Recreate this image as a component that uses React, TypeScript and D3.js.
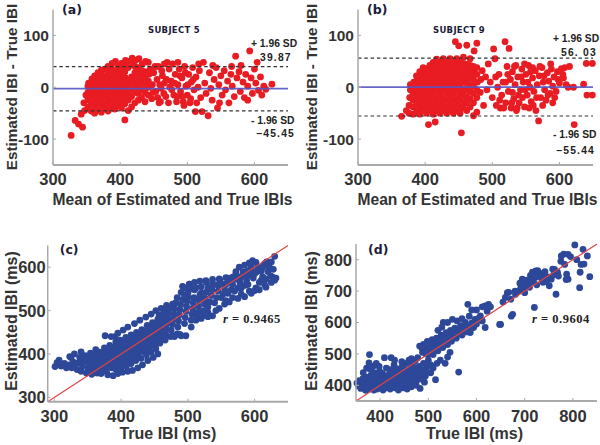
import React from 'react';
import * as d3 from 'd3';

// Bland-Altman data: [mean of estimated & true IBI, difference]
const subject5: [number, number][] = [
  [327,-93],[333,-64],[338,-71],[344,-77],[342,-52],[347,-45],[346,-30],[349,-15],
  [352,-38],[352,-24],[352,-10],[352,2],[353,8],
  [357,-46],[357,-32],[357,-18],[357,-5],[357,6],[358,16],
  [362,-50],[362,-38],[362,-25],[362,-12],[362,0],[363,12],[362,22],
  [367,-44],[367,-30],[367,-18],[367,-6],[367,6],[368,18],[367,28],
  [372,-48],[372,-35],[372,-22],[372,-10],[372,2],[373,14],[372,25],[372,33],
  [377,-40],[377,-28],[377,-15],[377,-3],[377,10],[378,22],[377,35],
  [382,-46],[382,-32],[382,-20],[382,-8],[382,4],[383,16],[382,28],[382,40],
  [387,-38],[387,-25],[387,-12],[387,0],[387,12],[388,24],[387,36],[388,46],
  [392,-42],[392,-30],[392,-18],[392,-5],[392,8],[393,20],[392,32],[393,50],
  [397,-35],[397,-22],[397,-10],[397,2],[397,15],[398,28],[397,40],
  [402,-40],[402,-28],[402,-15],[402,-3],[402,10],[403,22],[402,35],[402,46],
  [407,-63],[407,-32],[407,-20],[407,-8],[407,5],[408,18],[407,30],[407,42],[408,52],
  [412,-45],[412,-25],[412,-12],[412,0],[412,12],[412,38],[413,50],
  [417,-38],[417,-18],[417,-5],[417,8],[417,20],[417,45],[418,56],
  [422,-30],[422,-10],[422,3],[422,15],[422,28],[422,40],[423,52],
  [427,-25],[427,-12],[427,0],[427,12],[427,25],[427,38],[428,55],
  [432,-20],[432,-5],[432,8],[432,20],[432,32],[433,45],
  [437,-28],[437,-10],[437,5],[437,18],[437,30],[438,50],
  [442,-15],[442,0],[442,12],[443,25],[442,48],
  [447,-22],[448,5],[450,28],[453,-8],[455,15],[457,40],[460,-28],[461,-2],[463,22],[466,8],
  [468,-18],[470,48],[472,-30],[474,0],[476,12],[478,45],[480,-15],[482,25],[484,-28],[486,5],
  [488,35],[490,-8],[492,18],[494,-28],[496,40],[498,2],[500,-15],[502,25],[504,-30],[506,10],
  [508,38],[510,-5],[512,-47],[513,20],[516,0],[518,32],[520,-20],
  [445,35],[449,-10],[452,40],[456,-20],[459,5],[462,32],[465,-12],[469,15],[473,35],[477,-5],
  [481,8],[485,-18],[489,22],[493,-18],[497,28],[501,5],[505,-22],[509,15],[514,-30],[517,45],
  [458,-30],[466,45],[486,48],[495,-35],
  [522,-47],[524,48],[526,8],[528,-12],[531,-55],[533,28],[535,-2],[537,-25],[540,15],[543,38],
  [545,-40],[547,5],[550,22],[552,-15],[555,32],[557,-5],[560,12],[562,-30],[565,25],[567,2],
  [570,-18],[572,60],[574,18],[577,30],[579,-8],[580,42],[583,10],[585,-20],[587,25],[590,2],
  [593,70],[595,18],[597,-12],[600,35],[602,8],[604,48],[606,-6],[609,20],[611,-15],[614,2],
  [617,-4],[626,6],[590,-25],[566,40],[548,-30],[538,42]
];

const subject9: [number, number][] = [
  [365,-56],[372,-45],[376,-35],[377,-20],[378,-5],[378,5],[376,-50],
  [382,-52],[382,-38],[382,-25],[382,-12],[382,0],[383,10],
  [387,-48],[387,-35],[387,-22],[387,-10],[387,2],[388,14],[387,22],
  [392,-52],[392,-40],[392,-28],[392,-15],[392,-3],[393,8],[392,20],[392,30],
  [397,-45],[397,-32],[397,-20],[397,-8],[397,5],[398,16],[397,28],[397,38],
  [402,-50],[402,-38],[402,-25],[402,-12],[402,0],[403,12],[402,24],[402,36],
  [405,-72],[407,-44],[407,-32],[407,-18],[407,-6],[407,6],[408,18],[407,30],[407,42],
  [412,-52],[412,-38],[412,-25],[412,-12],[412,0],[413,12],[412,24],[412,36],[412,48],
  [415,-67],[417,-45],[417,-32],[417,-20],[417,-6],[417,6],[418,18],[417,30],[417,42],[417,54],
  [422,-50],[422,-38],[422,-25],[422,-12],[422,0],[423,12],[422,24],[422,36],[422,48],
  [427,-45],[427,-32],[427,-20],[427,-6],[427,6],[428,18],[427,30],[427,42],[427,55],
  [432,-50],[432,-38],[432,-25],[432,-12],[432,0],[433,12],[432,24],[432,36],[432,48],
  [437,-45],[437,-32],[437,-20],[437,-6],[437,6],[438,18],[437,30],[437,42],[437,55],
  [442,-50],[442,-38],[442,-25],[442,-12],[442,0],[443,12],[442,24],[442,36],[442,48],
  [445,88],[450,80],[454,-88],
  [447,-45],[447,-32],[447,-20],[447,-6],[447,6],[448,18],[447,30],[447,42],[447,55],
  [452,-50],[452,-38],[452,-25],[452,-12],[452,0],[453,12],[452,24],[452,36],[452,48],
  [457,-40],[457,-28],[457,-15],[457,-3],[457,10],[458,22],[457,34],[457,46],[457,58],
  [462,-45],[462,-30],[462,-18],[462,-5],[462,8],[463,20],[462,32],[462,44],[462,81],
  [467,-38],[467,-22],[467,-8],[467,5],[467,18],[468,30],[467,42],[467,55],
  [472,-55],[472,-30],[472,-12],[472,2],[472,15],[473,28],[472,40],[473,70],
  [477,-48],[477,-20],[477,-5],[478,10],[477,25],[477,38],[477,85],
  [482,-10],[483,15],[485,32],[487,-35],[490,20],[492,-5],[494,45],[497,10],[500,-20],[502,74],
  [504,55],[506,-35],[508,0],[510,25],[512,-40],[514,-15],[516,10],[519,88],[520,-30],[522,40],
  [525,75],[524,-8],
  [527,15],[528,-40],[530,30],[532,-22],[534,5],[536,-45],[538,20],[540,-30],[542,-5],[544,35],
  [546,10],[548,-38],[550,25],[552,-15],[554,42],[556,0],[558,-28],[560,18],[562,-8],[564,32],
  [565,-45],[567,5],[569,-65],[570,22],[572,-20],[574,38],[576,10],[578,-5],[580,-25],[582,28],
  [584,12],[586,-12],[588,35],[590,2],[592,20],[595,-8],[597,30],[600,8],[603,36],[606,18],
  [610,5],[613,0],[621,0],[622,-72],[636,6],[640,46],[641,-15],[649,46],[649,-15],
  [545,-20],[555,-40],[535,42],[548,45],[530,-10],[575,-35],[560,38],[590,-30],
  [505,20],[511,-25],[517,-40],[523,25],[529,-30],[533,40],[539,-15],[543,20],[549,-5],[553,10],
  [557,30],[561,-35],[566,-20],[571,40],[577,22],[583,-15],[587,45],[593,-20],[598,15],[605,25],
  [608,38],[615,40],[520,10],[537,-40]
];

// Scatter data: [true IBI, estimated IBI]
const scatterC: [number, number][] = [
  [301,371],[304,380],[307,386],[310,372],[315,378],[318,368],[322,375],[323,394],[326,368],[328,382],
  [331,372],[334,364],[336,380],[338,392],[340,360],[342,372],[344,384],[346,396],[348,356],[350,366],
  [351,378],[352,390],[354,402],[356,353],[357,364],[358,375],[359,386],[360,398],[362,410],[364,356],
  [365,368],[366,380],[367,392],[368,404],[370,355],[371,366],[372,378],[373,390],[374,402],[375,414],
  [376,442],[378,360],[379,372],[380,384],[381,396],[382,408],[383,420],[386,368],[387,380],[388,392],
  [389,404],[390,416],[391,440],[392,428],[394,372],[395,384],[396,396],[397,408],[398,420],[399,432],
  [402,378],[403,390],[404,402],[405,414],[406,426],[407,438],[410,384],[411,396],[412,408],[413,420],
  [414,432],[415,444],[418,390],[419,402],[420,414],[421,426],[422,438],[423,450],[426,396],[427,408],
  [428,420],[429,432],[430,444],[431,456],[434,405],[435,418],[436,430],[437,442],[438,454],[439,466],
  [442,412],[443,424],[444,436],[445,448],[446,460],[447,472],[450,420],[451,432],[452,444],[453,456],
  [454,468],[455,480],[458,425],[459,438],[460,450],[461,462],[462,474],[463,486],[466,432],[467,445],
  [468,458],[469,470],[470,482],[471,494],[474,440],[475,455],[477,468],[478,480],[479,492],[480,504],
  [477,442],[484,446],[485,462],[486,476],[487,490],[488,502],[489,514],[490,442],[492,556],[495,470],
  [496,484],[497,498],[498,510],[499,522],[500,540],[503,561],[505,478],[506,492],[507,505],[508,518],
  [509,530],[510,548],[514,482],[515,496],[516,510],[517,524],[518,536],[520,555],[522,488],[524,500],
  [525,515],[526,528],[527,542],[528,565],[530,496],[533,520],[535,535],[536,548],[537,560],[542,500],
  [543,530],[545,545],[546,558],[548,570],[553,538],[555,550],[557,523],[558,562],[560,575],[565,548],
  [567,560],[570,572],[572,585],[575,552],[578,565],[580,578],[583,590],[585,558],[588,570],[590,592],
  [592,582],[595,600],[598,575],[600,546],[602,611],[604,590],[607,565],[610,598],[612,578],[615,608],
  [617,554],[617,573],[620,590],[624,580],[627,577],[630,625],[622,600],[632,575],[610,570],
  [380,352],[388,350],[395,355],[402,358],[410,360],[417,362],[425,368],[432,375],[440,385],[448,392],
  [455,400],[392,365],[400,368],[408,372],[415,378],[422,385],[430,390],[438,398],[445,405],[452,412],
  [385,440],[395,448],[403,455],[410,462],[420,470],[428,478],[437,485],[445,492],[452,500],[460,505],
  [468,512],[477,515],[484,530],[490,542],[496,552],[502,561],[510,565],[518,568],[527,569],[537,572],
  [547,573],[557,576],[567,577],[572,590],[577,600],[585,605],[592,610],[597,615],[480,440],[488,445],
  [497,442],[505,462],[512,478],[520,482],[530,486],[537,488],[547,505],[555,515],[562,520],[575,528],
  [585,532],[595,540],[607,548],[625,565],[610,592],[620,605],[605,600],[330,400],[340,405],[325,392],
  [457,490],[465,498],[472,505],[482,518],[492,525],[500,530],[495,535],[505,550],[512,552],[520,540],
  [530,552],[540,560],[550,562],[560,565],[565,570],[575,575],[582,580],[590,585],[598,590],[605,595],
  [612,600],[618,612],[625,612],[628,595],[600,585],[590,560],[580,552],[570,545],[560,540],[550,530],
  [540,518],[530,508],[520,498],[512,492],[567,530],[580,538],[592,545],[602,552],[615,560],[630,570]
];

const scatterD: [number, number][] = [
  [352,407],[355,398],[357,415],[360,390],[362,404],[364,420],[367,395],[368,410],[370,384],[372,425],
  [374,400],[376,414],[377,471],[378,498],[378,388],[380,430],[382,395],[384,408],[385,420],[387,385],
  [388,440],[390,400],[391,415],[393,430],[394,388],[396,404],[397,418],[399,445],[400,392],[402,408],
  [403,425],[405,438],[406,385],[408,400],[409,488],[410,415],[411,430],[413,455],[414,392],[416,405],
  [417,420],[419,435],[420,450],[421,388],[423,488],[424,400],[425,415],[427,430],[428,445],[429,465],
  [431,392],[432,408],[434,422],[435,438],[437,452],[438,385],[440,400],[441,415],[443,430],[444,445],
  [446,460],[447,392],[449,405],[450,420],[452,435],[453,450],[455,470],[456,388],[458,402],[459,418],
  [461,432],[462,447],[464,462],[465,395],[467,410],[468,425],[470,440],[471,455],[473,478],[475,400],
  [476,415],[478,430],[479,445],[481,460],[483,390],[485,420],[486,436],[488,450],[490,470],[492,410],
  [494,430],[495,445],[498,460],[500,480],
  [505,440],[510,455],[518,470],[525,480],[535,470],[540,490],[545,505],[505,465],[500,498],[495,520],
  [488,505],[478,488],[470,475],[465,485],[508,510],[460,480],[445,475],[430,480],[380,450],
  [385,460],[392,470],[365,440],[372,455],[398,460],
  [482,525],[487,518],[490,530],[495,500],[498,540],[502,515],[505,528],[508,545],[510,498],[512,520],
  [514,535],[515,418],[517,550],[520,510],[522,528],[524,545],[527,560],[530,520],[531,600],[532,538],
  [535,552],[537,568],[540,530],[542,545],[544,560],[546,575],[548,540],[550,555],[553,568],[555,582],
  [558,550],[560,562],[563,442],[565,575],[567,590],[570,560],[572,575],[575,588],[577,600],[580,570],
  [582,658],[584,585],[587,568],[590,598],[594,584],[597,610],[600,595],[603,612],[608,621],[612,605],
  [618,584],[618,653],[622,636],[625,658],[629,650],[648,594],[650,594],
  [520,575],[528,585],[560,605],[570,612],[585,620],[590,640],[600,640],[612,650],[540,600],[550,610],
  [664,695],[667,696],[671,674],[672,620],[675,626],[681,690],[688,701],[692,711],[695,738],[699,728],
  [709,728],[713,737],[716,760],[720,648],[723,744],[723,764],[727,765],[735,740],[740,752],[745,730],
  [751,717],[755,738],[758,770],[762,769],[765,690],[770,748],[776,812],[781,818],[783,785],[786,737],
  [787,754],[790,817],[790,738],[804,847],[814,711],[817,785],[821,833],[823,786],[835,746],[700,710],
  [680,700],[690,725],[705,735],[712,750],[718,730],[730,758],[742,762],[748,745],[760,752],[768,760],
  [775,795],[795,810],[808,800],[815,760],[830,812],[700,695],[710,712],[725,720],[738,728],[660,680],
  [655,665]
];

const baTicksX = [300, 400, 500, 600];
const baTicksY = [-100, 0, 100];
const cTicks = [300, 400, 500, 600];
const dTicks = [400, 500, 600, 700, 800];
const limits5 = [39.87, -45.45];
const limits9 = [56.03, -55.44];
const limitLabels5 = ['39.87', '\u221245.45'];
const limitLabels9 = ['56. 03', '\u221255.44'];
const rLabels = ['0.9465', '0.9604'];

const SANS = "'Liberation Sans', Arial, sans-serif";
const AXIS_COLOR = '#a9a9a9';
const TEXT_COLOR = '#333';
const RED = '#e81c22';
const BLUE = '#2d4899';

type Scale = d3.ScaleLinear<number, number>;

function Axes({ xs, ys, xTicks, yTicks, xTickY, yTickGap, yFont }: {
  xs: Scale; ys: Scale; xTicks: number[]; yTicks: number[]; xTickY: number; yTickGap: number; yFont: number;
}) {
  const [xa, xb] = xs.range();
  const [yb, ya] = ys.range();
  return (
    <g>
      <line x1={xa} x2={xa} y1={ya} y2={yb} stroke={AXIS_COLOR} strokeWidth={1.5} />
      <line x1={xa} x2={xb} y1={yb} y2={yb} stroke={AXIS_COLOR} strokeWidth={2} />
      {xTicks.map((t) => (
        <g key={'x' + t}>
          <line x1={xs(t)} x2={xs(t)} y1={yb} y2={yb - 3} stroke={AXIS_COLOR} strokeWidth={1} />
          <text x={xs(t)} y={xTickY} textAnchor="middle" fontFamily={SANS} fontWeight="bold"
            fontSize={16.5} fill={TEXT_COLOR}>{t}</text>
        </g>
      ))}
      {yTicks.map((t) => (
        <g key={'y' + t}>
          <line x1={xa} x2={xa + 3} y1={ys(t)} y2={ys(t)} stroke={AXIS_COLOR} strokeWidth={1} />
          <text x={xa - yTickGap} y={ys(t)} dy="0.36em" textAnchor="end" fontFamily={SANS}
            fontWeight="bold" fontSize={yFont} fill={TEXT_COLOR}>{t < 0 ? '-' + Math.abs(t) : t}</text>
        </g>
      ))}
    </g>
  );
}

function Dots({ data, xs, ys, color }: { data: [number, number][]; xs: Scale; ys: Scale; color: string }) {
  return (
    <g>
      {data.map((d, i) => (
        <circle key={i} cx={xs(d[0])} cy={ys(d[1])} r={3.4} fill={color} />
      ))}
    </g>
  );
}

function BlandAltman({ data, x0, x1, limits, limitLabels, subject, subjectX, tag, ylabX, annoX, annoY }: {
  data: [number, number][]; x0: number; x1: number; limits: number[]; limitLabels: string[];
  subject: string; subjectX: number; tag: string; ylabX: number; annoX: number[]; annoY: number[];
}) {
  const xs = d3.scaleLinear().domain([300, 650]).range([x0, x1]);
  const ys = d3.scaleLinear().domain([-150, 150]).range([165, 9.5]);
  const bias = (limits[0] + limits[1]) / 2;
  const annoFont = { fontFamily: SANS, fontWeight: 'bold' as const, fontSize: 10.3, fill: '#222' };
  return (
    <g>
      <Dots data={data} xs={xs} ys={ys} color={RED} />
      <line x1={x0} x2={x1} y1={ys(bias)} y2={ys(bias)} stroke="#5656c6" strokeWidth={1.7} opacity={0.9} />
      {limits.map((l, i) => (
        <line key={i} x1={x0} x2={x1} y1={ys(l)} y2={ys(l)} stroke="#333" strokeWidth={1.2}
          strokeDasharray="3.5,2.8" />
      ))}
      <Axes xs={xs} ys={ys} xTicks={baTicksX} yTicks={baTicksY} xTickY={185} yTickGap={4} yFont={15.5} />
      <text x={x0 + 9} y={14} fontFamily="'DejaVu Sans', sans-serif" fontWeight="bold" fontSize={12.5}
        fill="#1b1b3a">{tag}</text>
      <text x={subjectX} y={32.5} fontFamily="'DejaVu Sans', sans-serif"
        fontWeight="bold" fontSize={8.5} fill="#1b1b3a" letterSpacing={0.3}>{subject}</text>
      <text x={annoX[0]} y={annoY[0]} {...annoFont}>+ 1.96 SD</text>
      <text x={annoX[1]} y={annoY[1]} {...annoFont} letterSpacing={1.2}>{limitLabels[0]}</text>
      <text x={annoX[0]} y={annoY[2]} {...annoFont}>- 1.96 SD</text>
      <text x={annoX[2]} y={annoY[3]} {...annoFont} letterSpacing={1.2}>{limitLabels[1]}</text>
      <text transform={`translate(${ylabX},87) rotate(-90)`} textAnchor="middle" fontFamily={SANS}
        fontWeight="bold" fontSize={15.3} fill={TEXT_COLOR}>Estimated IBI - True IBI</text>
      <text x={(x0 + x1) / 2 + 2} y={205} textAnchor="middle" fontFamily={SANS} fontWeight="bold"
        fontSize={15.6} fill={TEXT_COLOR}>Mean of Estimated and True IBIs</text>
    </g>
  );
}

function Scatter({ data, domain, x0, x1, yTop, yBottom, ticks, tag, r, rx, yTickGap, ylabX, xlabDx }: {
  data: [number, number][]; domain: [number, number]; x0: number; x1: number; yTop: number;
  yBottom: number; ticks: number[]; tag: string; r: string; rx: number; yTickGap: number;
  ylabX: number; xlabDx: number;
}) {
  const xs = d3.scaleLinear().domain(domain).range([x0, x1]);
  const ys = d3.scaleLinear().domain(domain).range([yBottom, yTop]);
  return (
    <g>
      <Dots data={data} xs={xs} ys={ys} color={BLUE} />
      <line x1={xs(domain[0])} y1={ys(domain[0])} x2={xs(domain[1])} y2={ys(domain[1])}
        stroke="#e04444" strokeWidth={1.2} />
      <Axes xs={xs} ys={ys} xTicks={ticks} yTicks={ticks} xTickY={421.5} yTickGap={yTickGap} yFont={16.5} />
      <text x={x0 + 12} y={254} fontFamily="'DejaVu Sans', sans-serif" fontWeight="bold" fontSize={12.5}
        fill="#1b1b3a">{tag}</text>
      <text x={rx} y={323} fontFamily="'Liberation Serif', 'DejaVu Serif', serif" fontWeight="bold"
        fontSize={12.5} fill="#222" letterSpacing={0.5}>
        <tspan fontStyle="italic">r</tspan> = {r}
      </text>
      <text transform={`translate(${ylabX},321) rotate(-90)`} textAnchor="middle" fontFamily={SANS}
        fontWeight="bold" fontSize={16} fill={TEXT_COLOR}>Estimated IBI (ms)</text>
      <text x={(x0 + x1) / 2 + xlabDx} y={438.5} textAnchor="middle" fontFamily={SANS} fontWeight="bold"
        fontSize={16} fill={TEXT_COLOR}>True IBI (ms)</text>
    </g>
  );
}

export default function App() {
  return (
    <svg width={600} height={445} viewBox="0 0 600 445"
      style={{ position: 'absolute', left: 0, top: 0, background: '#fff' }}>
      <rect width={600} height={445} fill="#fff" />
      <BlandAltman data={subject5} x0={53} x1={288} limits={limits5} limitLabels={limitLabels5}
        subject="SUBJECT 5" subjectX={148} tag="(a)" ylabX={16.5}
        annoX={[251, 260, 256]} annoY={[46.5, 61, 123.5, 137]} />
      <BlandAltman data={subject9} x0={358} x1={593} limits={limits9} limitLabels={limitLabels9}
        subject="SUBJECT 9" subjectX={433} tag="(b)" ylabX={316.5}
        annoX={[553, 561, 556]} annoY={[42, 55.5, 138, 153.5]} />
      <Scatter data={scatterC} domain={[290, 650]} x0={47.7} x1={288} yTop={245.5} yBottom={401.7}
        ticks={cTicks} tag="(c)" r={rLabels[0]} rx={223} yTickGap={2} ylabX={16.5} xlabDx={0} />
      <Scatter data={scatterD} domain={[350, 850]} x0={356} x1={597} yTop={244} yBottom={401}
        ticks={dTicks} tag="(d)" r={rLabels[1]} rx={532} yTickGap={4} ylabX={316.5} xlabDx={-2} />
    </svg>
  );
}
